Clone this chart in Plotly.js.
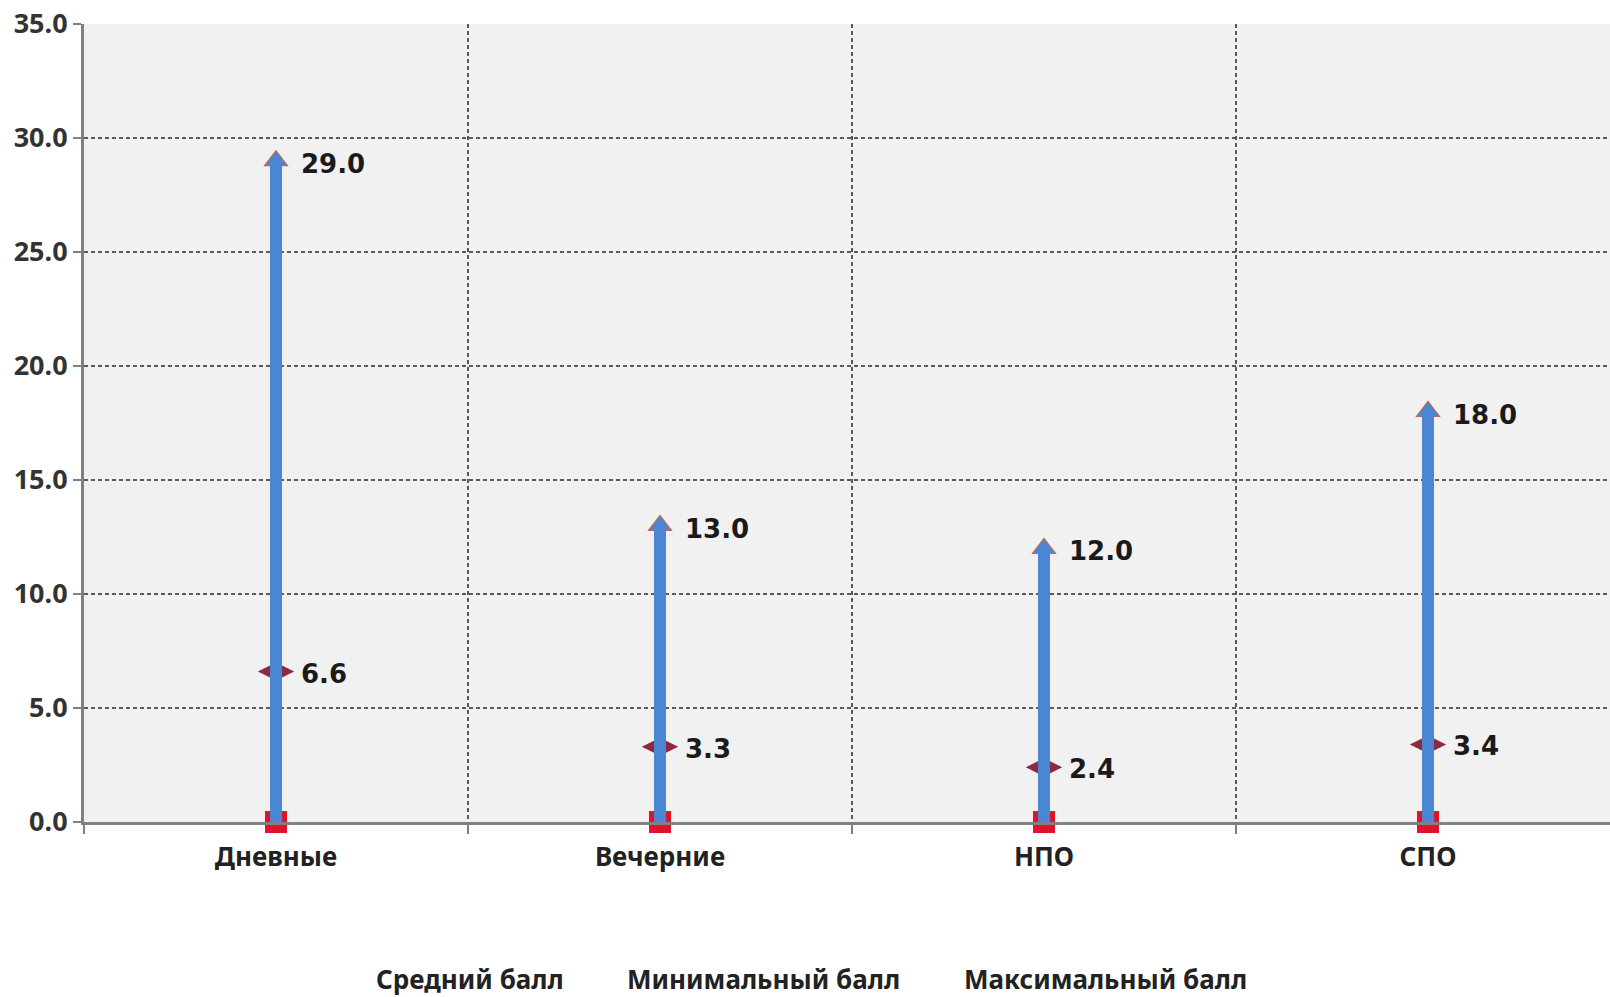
<!DOCTYPE html>
<html>
<head>
<meta charset="utf-8">
<script src="https://cdn.plot.ly/plotly-3.0.1.min.js"></script>
<style>html,body{margin:0;padding:0;background:#fff;}#chart{width:1610px;height:997px;}</style>
</head>
<body>
<div id="chart"></div>
<script>
const categories = ["Дневные", "Вечерние", "НПО", "СПО"];
const meanScores = [6.6, 3.3, 2.4, 3.4];
const minScores = [0, 0, 0, 0];
const maxScores = [29.0, 13.0, 12.0, 18.0];
const seriesNames = ["Средний балл", "Минимальный балл", "Максимальный балл"];
const yTicks = [0, 5, 10, 15, 20, 25, 30, 35];

const FONT = "Noto Sans, DejaVu Sans, sans-serif";
const NUMFONT = "DejaVu Sans, Noto Sans, sans-serif";
const BLUE = "#4a86d2";

// build segment coordinates from the data arrays
const segX = [], segY = [];
categories.forEach((c, i) => { segX.push(c, c, null); segY.push(minScores[i], maxScores[i], null); });

const traces = [
  { type: "scatter", mode: "markers", x: categories, y: minScores, name: seriesNames[1], showlegend: false,
    marker: { symbol: "square", size: 22, color: "#e2122c" }, cliponaxis: false },
  { type: "scatter", mode: "markers", x: categories, y: meanScores, name: seriesNames[0], showlegend: false,
    marker: { symbol: "diamond-wide", size: 26, color: "#8e2a40" }, cliponaxis: false },
  { type: "scatter", mode: "markers", x: categories, y: maxScores, name: seriesNames[2], showlegend: false,
    marker: { symbol: "triangle-up", size: 22, color: "#d6603a" }, cliponaxis: false },
  { type: "scatter", mode: "lines", x: segX, y: segY, showlegend: false, hoverinfo: "skip",
    line: { color: BLUE, width: 12 }, connectgaps: false },
  { type: "scatter", mode: "markers", x: categories, y: maxScores, showlegend: false, hoverinfo: "skip",
    marker: { symbol: "triangle-up", size: 19, color: BLUE }, cliponaxis: false }
];

const annotations = [];
categories.forEach((c, i) => {
  annotations.push({ x: c, y: maxScores[i], xref: "x", yref: "y", text: maxScores[i].toFixed(1), showarrow: false,
    xanchor: "left", yanchor: "middle", xshift: 23, yshift: -3, font: { family: NUMFONT, size: 26, color: "#1a1a1a", weight: "bold" } });
  annotations.push({ x: c, y: meanScores[i], xref: "x", yref: "y", text: meanScores[i].toFixed(1), showarrow: false,
    xanchor: "left", yanchor: "middle", xshift: 23, yshift: -2, font: { family: NUMFONT, size: 26, color: "#1a1a1a", weight: "bold" } });
});
// legend entries (text only, as in the reference)
const legendX = [470, 763, 1105];
seriesNames.forEach((n, i) => {
  annotations.push({ x: legendX[i], y: 979, xref: "paper", yref: "paper", text: n, showarrow: false,
    xanchor: "center", yanchor: "middle", font: { family: FONT, size: 26, color: "#222", weight: "bold" } });
});
// convert paper pixel positions to paper fractions
const ML = 84, MR = 0, MT = 24, MB = 175, W = 1610, H = 997;
annotations.forEach(a => { if (a.xref === "paper") { a.x = (a.x - ML) / (W - ML - MR); a.y = 1 - (a.y - MT) / (H - MT - MB); } });

const layout = {
  width: W, height: H,
  margin: { l: ML, r: MR, t: MT, b: MB, pad: 0 },
  paper_bgcolor: "#ffffff",
  plot_bgcolor: "#f1f1f1",
  showlegend: false,
  font: { family: FONT, size: 22, color: "#333" },
  xaxis: {
    type: "category", categoryorder: "array", categoryarray: categories,
    range: [-0.5, 3.474],
    tickson: "boundaries", ticks: "outside", ticklen: 9, tickwidth: 2, tickcolor: "#808080",
    showline: true, linecolor: "#808080", linewidth: 3,
    showgrid: true, gridcolor: "#5a5a5a", gridwidth: 1.5, griddash: "4px,3px",
    tickfont: { family: FONT, size: 26, color: "#222", weight: "bold" },
    zeroline: false, fixedrange: true, ticklabelstandoff: 10
  },
  yaxis: {
    range: [0, 35], tickvals: yTicks, ticktext: yTicks.map(v => v.toFixed(1)),
    ticks: "outside", ticklen: 8, tickwidth: 2, tickcolor: "#808080",
    showline: true, linecolor: "#808080", linewidth: 3,
    showgrid: true, gridcolor: "#5a5a5a", gridwidth: 1.5, griddash: "4px,3px",
    tickfont: { family: FONT, size: 27, color: "#333", weight: "bold" },
    zeroline: false, fixedrange: true, ticklabelstandoff: 0
  },
  annotations: annotations
};

Plotly.newPlot("chart", traces, layout, { displayModeBar: false, staticPlot: true });
</script>
</body>
</html>
